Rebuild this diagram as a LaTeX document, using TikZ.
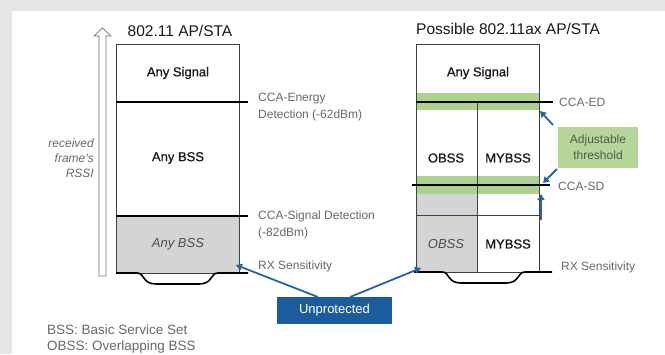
\documentclass[tikz,border=0pt]{standalone}
\usepackage{fontspec}
\setmainfont{Liberation Sans}
\newfontfamily\medfont[FakeBold=0.8]{Liberation Sans}
\usetikzlibrary{arrows.meta}
\definecolor{bggray}{RGB}{230,230,230}
\definecolor{cellgray}{RGB}{212,212,212}
\definecolor{bandgreen}{RGB}{172,210,142}
\definecolor{adjgreen}{RGB}{180,214,152}
\definecolor{ublue}{RGB}{28,92,156}
\definecolor{ablue}{RGB}{40,100,160}
\definecolor{lblgray}{RGB}{105,105,105}
\definecolor{adjtext}{RGB}{80,90,75}
\tikzset{
  boxline/.style={draw=black!75, line width=0.8pt},
  thr/.style={draw=black, line width=2pt},
  bottomline/.style={draw=black, line width=1.6pt},
  lbl/.style={anchor=west, text=lblgray, inner sep=0pt, align=left,
              font=\fontsize{12}{17}\selectfont},
  cell/.style={text=black!90, inner sep=0pt, font=\medfont\fontsize{13}{15}\selectfont},
  icell/.style={text=black!70, inner sep=0pt, font=\itshape\fontsize{13}{15}\selectfont},
  titletext/.style={text=black!90, inner sep=0pt, font=\fontsize{15.5}{18}\selectfont},
  barrow/.style={draw=ablue, line width=1.8pt, -{Triangle[length=6pt,width=7pt]}},
}
\begin{document}
\begin{tikzpicture}[x=1pt,y=-1pt]
\fill[bggray] (0,0) rectangle (665,354);
\fill[white] (12,11) rectangle (665,354);
\useasboundingbox (0,0) rectangle (665,354);

% RSSI arrow
\draw[draw=black!55, fill=white, line width=0.7pt, line join=miter]
  (99,276) -- (99,36) -- (94,36) -- (102.5,28) -- (111,36) -- (106,36) -- (106,276) -- cycle;
\node[anchor=east, align=right, inner sep=0pt, text=lblgray,
      font=\itshape\fontsize{12}{15}\selectfont] (rssi) at (94,158)
      {received\\frame's\\RSSI};

% Left box
\fill[cellgray] (116,216) rectangle (239,273);
\draw[boxline] (116,44) rectangle (239,273);
\draw[thr] (116,102) -- (248,102);
\draw[thr] (116,216) -- (248,216);
\draw[bottomline] (116,273) -- (137,273) .. controls (145,273) and (142,284) .. (156,284)
  -- (199,284) .. controls (213,284) and (210,273) .. (218,273) -- (248,273);
\node[titletext] (t1) at (180,31) {802.11 AP/STA};
\node[cell] (l1) at (178,73) {Any Signal};
\node[cell] (l2) at (178,158) {Any BSS};
\node[icell] (l3) at (178,244) {Any BSS};
\node[lbl] (ed1) at (258,107) {CCA-Energy\\Detection (-62dBm)};
\node[lbl] (sd1) at (258,225) {CCA-Signal Detection\\(-82dBm)};
\node[lbl] (rx1) at (258,266) {RX Sensitivity};

% Right box
\fill[cellgray] (416,185) rectangle (477,272);
\fill[bandgreen] (416,93) rectangle (539,110);
\fill[bandgreen] (416,176) rectangle (539,194);
\draw[boxline] (416,44) rectangle (539,272);
\draw[boxline] (477,102) -- (477,272);
\draw[boxline] (416,215) -- (539,215);
\draw[thr] (416,102) -- (553,102);
\draw[thr] (412,185) -- (550,185);
\draw[bottomline] (414,272) -- (442,272) .. controls (450,272) and (447,283) .. (461,283)
  -- (506,283) .. controls (520,283) and (517,272) .. (525,272) -- (552,272);
\node[titletext, anchor=west] (t2) at (416,29) {Possible 802.11ax AP/STA};
\node[cell] (r1) at (478,73) {Any Signal};
\node[cell] (r2) at (446,158) {OBSS};
\node[cell] (r3) at (508,158) {MYBSS};
\node[icell] (r4) at (446,244) {OBSS};
\node[cell] (r5) at (508,244) {MYBSS};
\node[lbl] (ed2) at (559,102) {CCA-ED};
\node[lbl] (sd2) at (558,186) {CCA-SD};
\node[lbl] (rx2) at (561,267) {RX Sensitivity};

% Adjustable threshold
\node[fill=adjgreen, text=adjtext, align=center, inner sep=0pt,
      minimum width=80pt, minimum height=41pt,
      font=\fontsize{12}{16}\selectfont] (adj) at (598,147.5) {Adjustable\\threshold};
\coordinate (adjA) at (553,125);
\coordinate (adjB) at (557,169);
\coordinate (edT) at (540,111);
\coordinate (sdT) at (543,183);
\coordinate (upS) at (541,220);
\coordinate (upT) at (541,194);
\draw[barrow] (adjA) -- (edT);
\draw[barrow] (adjB) -- (sdT);
\draw[barrow] (upS) -- (upT);

% Unprotected
\node[fill=ublue, text=white, inner sep=0pt, minimum width=115pt, minimum height=27pt,
      font=\fontsize{13}{15}\selectfont] (unp) at (334.5,310.5) {Unprotected};
\coordinate (uL) at (318,297);
\coordinate (uR) at (350,297);
\coordinate (lT) at (236,265);
\coordinate (rT) at (421,268);
\draw[barrow] (uL) -- (lT);
\draw[barrow] (uR) -- (rT);

% footer
\node[anchor=west, align=left, inner sep=0pt, text=lblgray,
      font=\fontsize{13.5}{16}\selectfont] (foot) at (47,339)
      {BSS: Basic Service Set\\OBSS: Overlapping BSS};
\end{tikzpicture}
\end{document}
